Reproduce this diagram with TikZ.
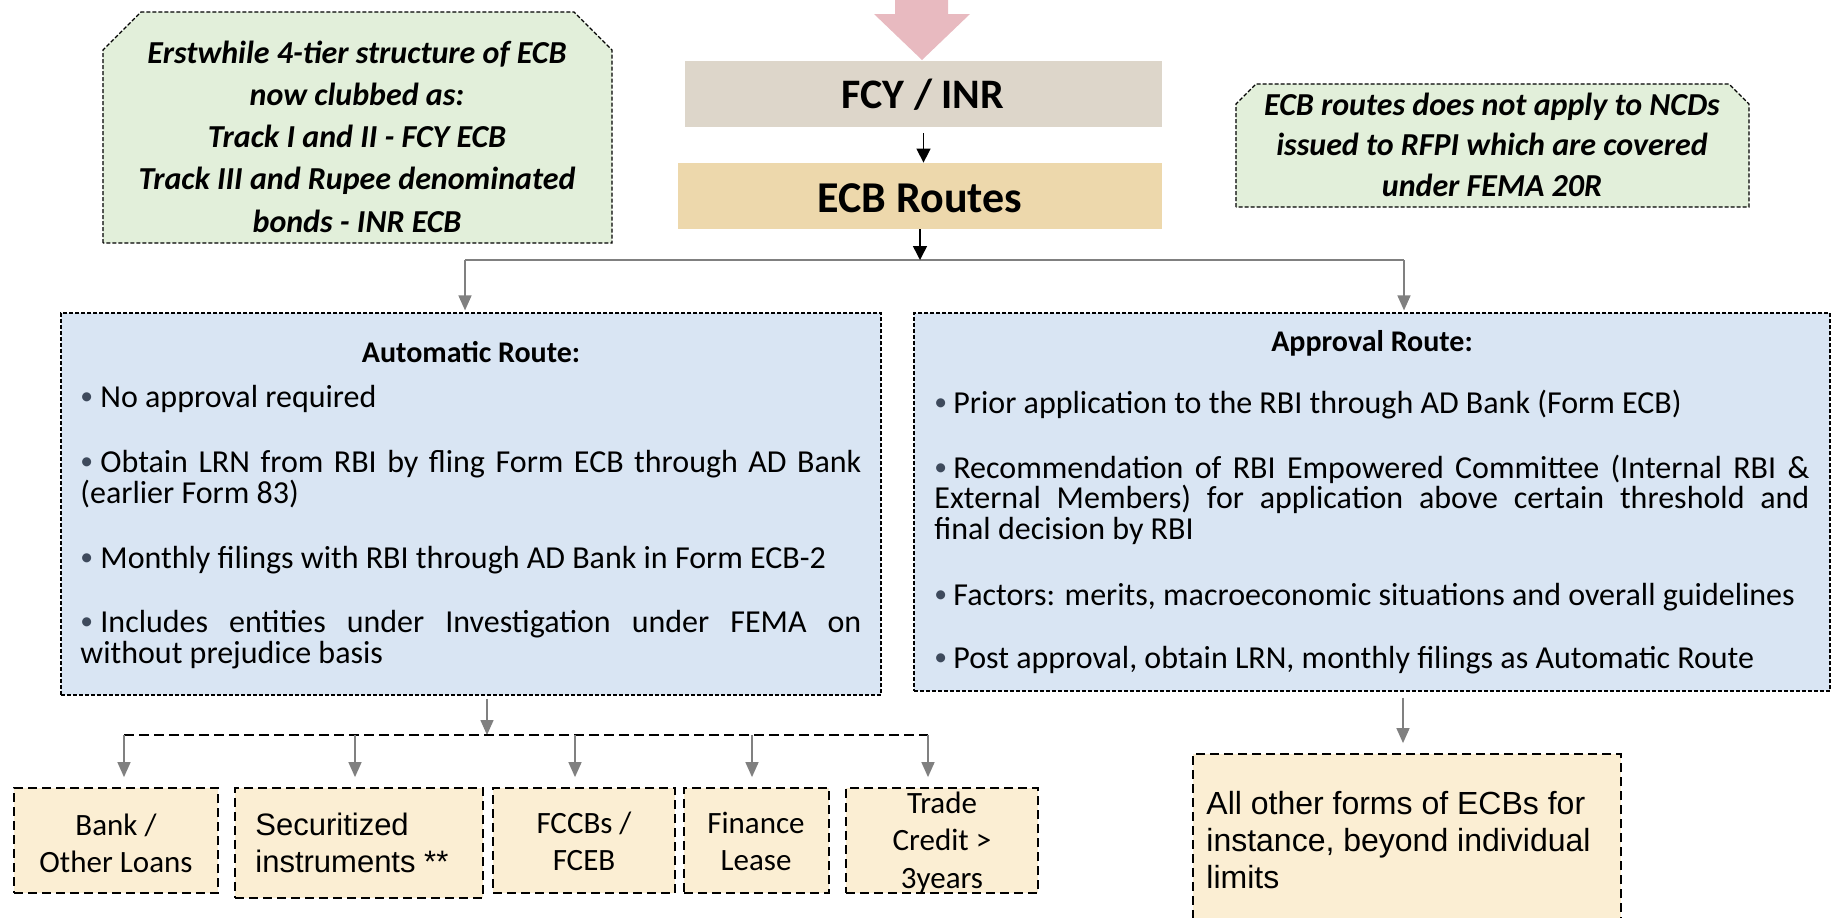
\documentclass[tikz,border=0pt]{standalone}
\usepackage{graphicx}
\usepackage{fontspec}
\setmainfont{Carlito}
\newfontfamily\arialf{Liberation Sans}
\usetikzlibrary{arrows.meta,fit}
\definecolor{notegreen}{HTML}{E2EFDA}
\definecolor{fcyc}{HTML}{DDD6CA}
\definecolor{ecbc}{HTML}{EDD8AC}
\definecolor{routeblue}{HTML}{D9E5F3}
\definecolor{leafc}{HTML}{FBEED3}
\definecolor{pinkc}{HTML}{E8BAC0}
\definecolor{grayc}{HTML}{808080}
\definecolor{bulletc}{HTML}{3E4A5C}
\newcommand{\bul}{\makebox[10pt][l]{\textcolor{bulletc}{\raisebox{0.08em}{\scalebox{0.8}{\textbullet}}}}}
\newcommand{\bulb}{\makebox[9.5pt][l]{\textcolor{bulletc}{\raisebox{0.08em}{\scalebox{0.8}{\textbullet}}}}}
\tikzset{
  notebox/.style={draw=black, line width=0.6pt, dash pattern=on 2pt off 1pt, fill=notegreen},
  notetext/.style={anchor=base, inner sep=0, align=flush center, font=\bfseries\itshape\fontsize{16}{21.15}\selectfont},
  routebox/.style={draw=black, line width=0.6pt, dash pattern=on 2pt off 1pt, fill=routeblue, inner sep=0},
  leafbox/.style={draw=black, line width=0.9pt, dash pattern=on 4.5pt off 2.5pt, fill=leafc, inner sep=0},
  paraA/.style={anchor=base west, inner sep=0, align=justify, text width=390.5pt, font=\fontsize{16}{15.75}\selectfont},
  paraB/.style={anchor=base west, inner sep=0, align=justify, text width=437.5pt, font=\fontsize{16}{15.25}\selectfont},
  titletext/.style={anchor=base, inner sep=0, font=\bfseries\fontsize{15}{18}\selectfont},
  leaftext/.style={anchor=base, inner sep=0, align=flush center, text width=100pt, font=\fontsize{15.5}{18.5}\selectfont},
  arialtext/.style={anchor=base west, inner sep=0, align=flush left, font=\arialf\fontsize{15.5}{18.5}\selectfont},
  blackarrow/.style={draw=black, line width=0.75pt, -{Triangle[length=7pt,width=7pt]}},
  grayarrow/.style={draw=grayc, line width=0.75pt, -{Triangle[length=7.5pt,width=6.5pt]}},
  grayline/.style={draw=grayc, line width=1.3pt},
  branchline/.style={draw=black, line width=1pt, dash pattern=on 5pt off 2.5pt}
}
\begin{document}
\begin{tikzpicture}[x=0.5pt,y=-0.5pt]
\useasboundingbox (0,0) rectangle (1837,917);
\clip (0,0) rectangle (1837,917);

% pink arrow on top
\fill[pinkc] (895,-2) -- (948,-2) -- (948,14) -- (970,14) -- (922,60) -- (874,14) -- (895,14) -- cycle;

% top boxes
\node[fit={(685,61)(1162,127)}, inner sep=0, fill=fcyc] (fcy) {};
\node[fit={(678,163)(1162,229)}, inner sep=0, fill=ecbc] (ecb) {};
\node[anchor=base, inner sep=0, font=\bfseries\fontsize{21}{25}\selectfont] (fcyt) at (923,108) {FCY / INR};
\node[anchor=base, inner sep=0, font=\bfseries\fontsize{22}{26}\selectfont] (ecbt) at (920,212) {ECB Routes};

% green notes
\draw[notebox] (103,243) -- (103,50) -- (141,12) -- (574,12) -- (612,50) -- (612,243) -- cycle;
\node[notetext, text width=250pt] (lnote) at (357,63) {Erstwhile 4-tier structure of ECB\\ now clubbed as:\\ Track I and II - FCY ECB\\ Track III and Rupee denominated\\ bonds - INR ECB};
\draw[notebox] (1236,207) -- (1236,104) -- (1256,84) -- (1729,84) -- (1749,104) -- (1749,207) -- cycle;
\node[notetext, text width=250pt, font=\bfseries\itshape\fontsize{16}{20.3}\selectfont] (rnote) at (1492,115) {ECB routes does not apply to NCDs\\ issued to RFPI which are covered\\ under FEMA 20R};

% route boxes
\node[routebox, fit={(61,313)(881,695)}] (auto) {};
\node[routebox, fit={(914,313)(1830,691)}] (appr) {};
\node[titletext] (autot) at (471,362) {Automatic Route:};
\node[titletext] (apprt) at (1372,351) {Approval Route:};

\node[paraA] (a1) at (80,407) {\bul\hangindent=10pt\hangafter=1 No approval required};
\node[paraA] (a2) at (80,472) {\bul\hangindent=10pt\hangafter=1 Obtain LRN from RBI by fling Form ECB through AD Bank\linebreak (earlier Form 83)};
\node[paraA] (a3) at (80,568) {\bul\hangindent=10pt\hangafter=1 Monthly filings with RBI through AD Bank in Form ECB-2};
\node[paraA] (a4) at (80,632) {\bul\hangindent=10pt\hangafter=1 Includes entities under Investigation under FEMA on\linebreak without prejudice basis};

\node[paraB] (p1) at (934,413) {\bulb\hangindent=9.5pt\hangafter=1 Prior application to the RBI through AD Bank (Form ECB)};
\node[paraB] (p2) at (934,478) {\bulb\hangindent=9.5pt\hangafter=1 Recommendation of RBI Empowered Committee (Internal RBI \&\linebreak External Members) for application above certain threshold and\linebreak final decision by RBI};
\node[paraB] (p3) at (934,605) {\bulb\hangindent=9.5pt\hangafter=1 Factors: merits, macroeconomic situations and overall guidelines};
\node[paraB] (p4) at (934,668) {\bulb\hangindent=9.5pt\hangafter=1 Post approval, obtain LRN, monthly filings as Automatic Route};

% bottom boxes
\node[leafbox, fit={(14,788)(218,893)}] (bank) {};
\node[leafbox, fit={(235,788)(483,898)}] (secu) {};
\node[leafbox, fit={(493,788)(675,893)}] (fccb) {};
\node[leafbox, fit={(684,788)(829,893)}] (fin) {};
\node[leafbox, fit={(846,788)(1038,893)}] (trade) {};
\node[leafbox, fit={(1193,754)(1621,960)}] (other) {};

\node[leaftext] (bankt) at (116,835) {Bank /\\ Other Loans};
\node[arialtext, text width=115pt] (secut) at (255,835) {Securitized\\ instruments **};
\node[leaftext] (fccbt) at (584,833) {FCCBs /\\ FCEB};
\node[leaftext] (fint) at (756,833) {Finance\\ Lease};
\node[leaftext, font=\fontsize{15.5}{18.75}\selectfont] (tradet) at (942,813) {Trade\\ Credit >\\ 3years};
\node[arialtext, text width=205pt, font=\arialf\fontsize{16}{18.5}\selectfont] (othert) at (1206,814) {All other forms of ECBs for\\ instance, beyond individual\\ limits};

% connectors
\draw[blackarrow, shorten <=3pt] (fcy.south) -- (fcy.south |- ecb.north);
\coordinate (ls) at (465,260);
\coordinate (rs) at (1404,260);
\coordinate (split) at (920,260);
\draw[grayline] (ls) -- (rs);
\draw[blackarrow] (ecb.south) -- (split);
\draw[grayarrow, shorten >=1pt] (ls) -- (ls |- auto.north);
\draw[grayarrow, shorten >=1pt] (rs) -- (rs |- appr.north);

\coordinate (bs) at (487,735);
\draw[grayarrow, shorten <=1.5pt] (bs |- auto.south) -- (bs);
\coordinate (b1) at (124,735);
\coordinate (b2) at (355,735);
\coordinate (b3) at (575,735);
\coordinate (b4) at (752,735);
\coordinate (b5) at (928,735);
\draw[branchline] (b1) -- (b5);
\draw[grayarrow, shorten >=5pt] (b1) -- (b1 |- bank.north);
\draw[grayarrow, shorten >=5pt] (b2) -- (b2 |- secu.north);
\draw[grayarrow, shorten >=5pt] (b3) -- (b3 |- fccb.north);
\draw[grayarrow, shorten >=5pt] (b4) -- (b4 |- fin.north);
\draw[grayarrow, shorten >=5pt] (b5) -- (b5 |- trade.north);

\coordinate (os) at (1403,720);
\draw[grayarrow, shorten <=3pt, shorten >=5pt] (os |- appr.south) -- (os |- other.north);
\end{tikzpicture}
\end{document}
